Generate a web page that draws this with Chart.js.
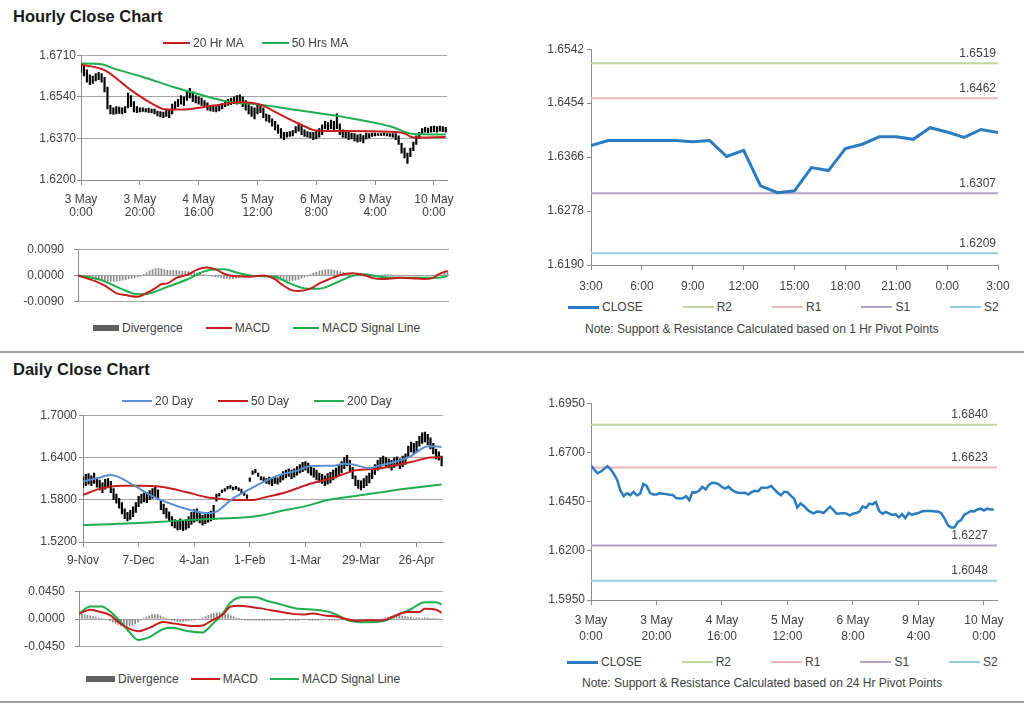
<!DOCTYPE html>
<html>
<head>
<meta charset="utf-8">
<title>Hourly and Daily Close Charts</title>
<script src="https://cdn.jsdelivr.net/npm/chart.js@4.4.1/dist/chart.umd.min.js"></script>
<style>
  html, body { margin: 0; padding: 0; background: #fff; }
  body { width: 1024px; height: 706px; position: relative; overflow: hidden;
         font-family: 'Liberation Sans', Arial, sans-serif; color: #404040; }
  .box { position: absolute; }
  .title { position: absolute; left: 13px; font-size: 16.5px; font-weight: bold; color: #1a1a1a; line-height: 20px; }
  .rule { position: absolute; left: 0; width: 1024px; height: 0; border-top: 2px solid #a0a0a0; }
  .legend { position: absolute; display: flex; align-items: center; height: 14px; font-size: 12px; white-space: nowrap; }
  .legend .item { display: flex; align-items: center; }
  .legend i { display: inline-block; margin-right: 3px; }
  .note { position: absolute; font-size: 12px; line-height: 14px; white-space: nowrap; }
</style>
</head>
<body>
<div class="title" style="top:6px">Hourly Close Chart</div>
<div class="title" style="top:359px">Daily Close Chart</div>
<div class="rule" style="top:351px"></div>
<div class="rule" style="top:701px"></div>

<div class="box" style="left:0;top:47px;width:462px;height:173px"><canvas id="hourPrice"></canvas></div>
<div class="box" style="left:0;top:232px;width:462px;height:87px"><canvas id="hourMacd"></canvas></div>
<div class="box" style="left:510px;top:39px;width:514px;height:256px"><canvas id="hourPivot"></canvas></div>
<div class="box" style="left:0;top:406px;width:462px;height:166px"><canvas id="dayPrice"></canvas></div>
<div class="box" style="left:0;top:574px;width:462px;height:90px"><canvas id="dayMacd"></canvas></div>
<div class="box" style="left:510px;top:394px;width:514px;height:256px"><canvas id="dayPivot"></canvas></div>

<div class="legend" id="lgHourPrice" style="left:163px;top:36px"></div>
<div class="legend" id="lgHourMacd" style="left:93px;top:321px"></div>
<div class="legend" id="lgHourPivot" style="left:568px;top:300px"></div>
<div class="legend" id="lgDayPrice" style="left:122px;top:394px"></div>
<div class="legend" id="lgDayMacd" style="left:86px;top:672px"></div>
<div class="legend" id="lgDayPivot" style="left:567px;top:655px"></div>

<div class="note" style="left:585px;top:322px">Note: Support &amp; Resistance Calculated based on 1 Hr Pivot Points</div>
<div class="note" style="left:582px;top:676px">Note: Support &amp; Resistance Calculated based on 24 Hr Pivot Points</div>

<script>
// ---- hourly chart (top left), one bar per trading hour ----
var hourTicks = [['3 May', '0:00'], ['3 May', '20:00'], ['4 May', '16:00'], ['5 May', '12:00'],
                 ['6 May', '8:00'], ['9 May', '4:00'], ['10 May', '0:00']];

var hourBarLow = [
  1.6640, 1.6625, 1.6600, 1.6590, 1.6595, 1.6605, 1.6610, 1.6600, 1.6560, 1.6490,
  1.6470, 1.6468, 1.6470, 1.6472, 1.6470, 1.6475, 1.6495, 1.6500, 1.6478, 1.6475,
  1.6478, 1.6480, 1.6478, 1.6476, 1.6475, 1.6470, 1.6462, 1.6458, 1.6455, 1.6460,
  1.6455, 1.6470, 1.6490, 1.6500, 1.6510, 1.6505, 1.6525, 1.6535, 1.6520, 1.6515,
  1.6510, 1.6505, 1.6500, 1.6485, 1.6482, 1.6480, 1.6478, 1.6482, 1.6490, 1.6500,
  1.6505, 1.6508, 1.6512, 1.6510, 1.6515, 1.6500, 1.6485, 1.6470, 1.6460, 1.6450,
  1.6470, 1.6475, 1.6455, 1.6440, 1.6435, 1.6420, 1.6405, 1.6390, 1.6372, 1.6365,
  1.6375, 1.6378, 1.6380, 1.6392, 1.6400, 1.6385, 1.6378, 1.6375, 1.6372, 1.6365,
  1.6368, 1.6375, 1.6385, 1.6410, 1.6405, 1.6410, 1.6400, 1.6410, 1.6385, 1.6375,
  1.6372, 1.6365, 1.6368, 1.6360, 1.6355, 1.6358, 1.6352, 1.6368, 1.6372, 1.6378,
  1.6380, 1.6382, 1.6382, 1.6382, 1.6380, 1.6378, 1.6375, 1.6365, 1.6345, 1.6310,
  1.6290, 1.6268, 1.6295, 1.6320, 1.6345, 1.6370, 1.6390, 1.6395, 1.6392, 1.6395,
  1.6398, 1.6395, 1.6400, 1.6398, 1.6395
];
var hourBarHigh = [
  1.6675, 1.6665, 1.6650, 1.6630, 1.6625, 1.6635, 1.6640, 1.6635, 1.6620, 1.6580,
  1.6505, 1.6495, 1.6500, 1.6498, 1.6495, 1.6500, 1.6555, 1.6545, 1.6520, 1.6500,
  1.6495, 1.6495, 1.6492, 1.6494, 1.6490, 1.6490, 1.6482, 1.6480, 1.6478, 1.6490,
  1.6485, 1.6510, 1.6520, 1.6530, 1.6545, 1.6540, 1.6560, 1.6575, 1.6560, 1.6545,
  1.6540, 1.6535, 1.6525, 1.6515, 1.6505, 1.6505, 1.6500, 1.6508, 1.6512, 1.6525,
  1.6530, 1.6535, 1.6540, 1.6545, 1.6548, 1.6540, 1.6525, 1.6510, 1.6500, 1.6495,
  1.6510, 1.6508, 1.6495, 1.6470, 1.6465, 1.6450, 1.6440, 1.6425, 1.6410, 1.6395,
  1.6395, 1.6398, 1.6402, 1.6418, 1.6428, 1.6420, 1.6405, 1.6398, 1.6395, 1.6395,
  1.6400, 1.6410, 1.6425, 1.6440, 1.6435, 1.6445, 1.6440, 1.6470, 1.6430, 1.6405,
  1.6400, 1.6395, 1.6392, 1.6390, 1.6385, 1.6388, 1.6382, 1.6392, 1.6390, 1.6392,
  1.6392, 1.6390, 1.6390, 1.6392, 1.6390, 1.6390, 1.6390, 1.6390, 1.6380, 1.6350,
  1.6330, 1.6310, 1.6330, 1.6355, 1.6380, 1.6395, 1.6410, 1.6415, 1.6412, 1.6418,
  1.6420, 1.6418, 1.6420, 1.6418, 1.6415
];

// moving averages, read as [hour index, value]
var ma20Hr = [[0, 1.6672], [8, 1.6649], [17, 1.6567], [24, 1.6513], [29, 1.6488], [34, 1.6488],
              [45, 1.6504], [54, 1.6518], [61, 1.6508], [67, 1.6472], [74, 1.6431], [80, 1.6402],
              [86, 1.6400], [105, 1.6397], [110, 1.6390], [113, 1.6374], [124, 1.6376]];
var ma50Hr = [[0, 1.6676], [7, 1.6673], [11, 1.6656], [21, 1.6621], [32, 1.6578], [41, 1.6547],
              [50, 1.6520], [61, 1.6508], [72, 1.6488], [89, 1.6458], [105, 1.6420], [113, 1.6388],
              [124, 1.6386]];

var hourDivergence = [
  0, -0.0003, -0.0005, -0.0007, -0.0009, -0.0011, -0.0013, -0.0015, -0.0016, -0.0018,
  -0.0019, -0.0020, -0.0020, -0.0019, -0.0018, -0.0016, -0.0014, -0.0012, -0.0010, -0.0008,
  -0.0005, -0.0002, 0.0004, 0.0010, 0.0016, 0.0020, 0.0024, 0.0025, 0.0023, 0.0020,
  0.0018, 0.0017, 0.0018, 0.0017, 0.0016, 0.0015, 0.0014, 0.0013, 0.0012, 0.0010,
  0.0008, 0.0006, 0.0004, 0.0002, 0, -0.0002, -0.0004, -0.0006, -0.0008, -0.0010,
  -0.0011, -0.0012, -0.0011, -0.0009, -0.0006, -0.0004, -0.0002, -0.0001, 0, 0,
  0, 0, 0, -0.0002, -0.0005, -0.0008, -0.0011, -0.0014, -0.0016, -0.0018,
  -0.0019, -0.0019, -0.0018, -0.0016, -0.0013, -0.0010, -0.0006, -0.0002, 0.0003, 0.0008,
  0.0012, 0.0016, 0.0018, 0.0019, 0.0020, 0.0019, 0.0018, 0.0016, 0.0013, 0.0010,
  0.0006, 0.0004, 0.0002, 0.0001, 0, -0.0001, -0.0002, -0.0003, -0.0003, -0.0002,
  -0.0001, 0.0001, 0.0002, 0.0003, 0.0003, 0.0002, 0.0001, 0, 0, 0,
  0, 0, 0, -0.0001, -0.0001, 0, 0, 0, 0, 0.0001,
  0.0002, 0.0004, 0.0008, 0.0012, 0.0016
];
var hourMacd = [[0, 0], [6, -0.0020], [9, -0.0035], [13, -0.0061], [16, -0.0067], [20, -0.0073],
                [22, -0.0065], [26, -0.0043], [28, -0.0030], [30, -0.0027], [33, -0.0008], [37, 0.0004],
                [40, 0.0020], [43, 0.0027], [46, 0.0022], [49, 0.0006], [52, -0.0002], [58, -0.0004],
                [62, 0], [66, -0.0012], [69, -0.0035], [72, -0.0051], [74, -0.0053], [78, -0.0045],
                [81, -0.0027], [84, -0.0014], [88, 0.0002], [92, 0.0008], [96, 0.0002], [99, -0.0009],
                [102, -0.0012], [108, -0.0008], [112, -0.0009], [116, -0.0012], [119, -0.0009],
                [121, 0.0004], [124, 0.0016]];
var hourSignal = [[0, 0], [8, -0.0016], [14, -0.0043], [20, -0.0064], [23, -0.0063], [30, -0.0039],
                  [37, -0.0012], [43, 0.0016], [49, 0.0021], [54, 0.0008], [60, -0.0002], [66, -0.0004],
                  [71, -0.0027], [77, -0.0045], [81, -0.0045], [87, -0.0023], [92, -0.0002], [96, 0.0004],
                  [101, -0.0004], [108, -0.0008], [117, -0.0008], [121, -0.0008], [124, -0.0002]];

// ---- 1 hr pivot chart (top right) ----
var pivotTicks = ['3:00', '6:00', '9:00', '12:00', '15:00', '18:00', '21:00', '0:00', '3:00'];
var pivotClose = [1.6385, 1.6393, 1.6393, 1.6393, 1.6393, 1.6393, 1.6391, 1.6393, 1.6367, 1.6377,
                  1.6319, 1.6308, 1.6311, 1.6349, 1.6344, 1.6380, 1.6387, 1.6399, 1.6399, 1.6395,
                  1.6414, 1.6407, 1.6398, 1.6411, 1.6406];
var pivotNames = ['R2', 'R1', 'S1', 'S2'];
var hourPivots = [1.6519, 1.6462, 1.6307, 1.6209];

// ---- 24 hr pivot chart (bottom right) ----
var hourClose = [
  1.6634, 1.6612, 1.6594, 1.6603, 1.6615, 1.6630, 1.6614, 1.6590, 1.6560, 1.6505,
  1.6478, 1.6492, 1.6483, 1.6500, 1.6482, 1.6490, 1.6540, 1.6530, 1.6495, 1.6486,
  1.6486, 1.6492, 1.6490, 1.6488, 1.6485, 1.6484, 1.6468, 1.6466, 1.6467, 1.6478,
  1.6458, 1.6498, 1.6496, 1.6505, 1.6525, 1.6512, 1.6535, 1.6546, 1.6545, 1.6538,
  1.6524, 1.6516, 1.6526, 1.6510, 1.6500, 1.6495, 1.6494, 1.6495, 1.6486, 1.6498,
  1.6505, 1.6502, 1.6520, 1.6520, 1.6521, 1.6530, 1.6512, 1.6495, 1.6482, 1.6500,
  1.6498, 1.6480, 1.6466, 1.6420, 1.6440, 1.6428, 1.6410, 1.6398, 1.6390, 1.6400,
  1.6398, 1.6392, 1.6408, 1.6424, 1.6408, 1.6388, 1.6390, 1.6392, 1.6389, 1.6380,
  1.6388, 1.6392, 1.6400, 1.6426, 1.6418, 1.6440, 1.6436, 1.6448, 1.6402, 1.6388,
  1.6398, 1.6390, 1.6382, 1.6386, 1.6370, 1.6386, 1.6366, 1.6392, 1.6383, 1.6388,
  1.6392, 1.6400, 1.6402, 1.6402, 1.6402, 1.6400, 1.6400, 1.6390, 1.6364, 1.6330,
  1.6318, 1.6318, 1.6345, 1.6356, 1.6383, 1.6392, 1.6402, 1.6400, 1.6410, 1.6414,
  1.6405, 1.6414, 1.6410, 1.6410
];
var dayPivots = [1.6840, 1.6623, 1.6227, 1.6048];

// ---- daily chart (bottom left), one bar per trading day ----
var dayTicks = ['9-Nov', '7-Dec', '4-Jan', '1-Feb', '1-Mar', '29-Mar', '26-Apr'];
var dayBarLow = [
  1.597, 1.600, 1.602, 1.600, 1.603, 1.598, 1.594, 1.590, 1.595, 1.598,
  1.590, 1.580, 1.575, 1.568, 1.560, 1.553, 1.550, 1.552, 1.556, 1.562,
  1.570, 1.575, 1.577, 1.576, 1.580, 1.582, 1.584, 1.580, 1.566, 1.560,
  1.554, 1.550, 1.543, 1.540, 1.537, 1.538, 1.536, 1.538, 1.540, 1.545,
  1.548, 1.550, 1.547, 1.544, 1.546, 1.548, 1.550, 1.552, 1.578, 1.585,
  1.590, 1.592, 1.595, 1.596, 1.594, 1.595, 1.593, 1.590, 1.586, 1.582,
  1.606, 1.616, 1.618, 1.613, 1.608, 1.606, 1.603, 1.602, 1.600, 1.603,
  1.602, 1.605, 1.608, 1.611, 1.613, 1.610, 1.612, 1.615, 1.618, 1.620,
  1.622, 1.618, 1.615, 1.612, 1.608, 1.605, 1.603, 1.600, 1.602, 1.604,
  1.608, 1.611, 1.614, 1.618, 1.624, 1.628, 1.620, 1.610, 1.600, 1.596,
  1.594, 1.597, 1.600, 1.604, 1.610, 1.616, 1.622, 1.626, 1.629, 1.627,
  1.625, 1.622, 1.626, 1.628, 1.624, 1.627, 1.630, 1.640, 1.648, 1.645,
  1.648, 1.656, 1.660, 1.662, 1.658, 1.652, 1.645, 1.638, 1.636, 1.628
];
var dayBarHigh = [
  1.612, 1.616, 1.617, 1.614, 1.618, 1.611, 1.608, 1.604, 1.609, 1.610,
  1.606, 1.596, 1.588, 1.582, 1.576, 1.567, 1.562, 1.565, 1.570, 1.576,
  1.585, 1.588, 1.590, 1.590, 1.593, 1.596, 1.598, 1.594, 1.580, 1.574,
  1.568, 1.563, 1.556, 1.552, 1.550, 1.553, 1.550, 1.552, 1.556, 1.562,
  1.566, 1.567, 1.562, 1.558, 1.560, 1.562, 1.564, 1.572, 1.588, 1.589,
  1.594, 1.596, 1.599, 1.600, 1.598, 1.599, 1.597, 1.595, 1.590, 1.587,
  1.611, 1.621, 1.623, 1.618, 1.613, 1.612, 1.610, 1.612, 1.610, 1.613,
  1.611, 1.616, 1.620, 1.622, 1.624, 1.622, 1.624, 1.627, 1.630, 1.633,
  1.634, 1.632, 1.628, 1.625, 1.622, 1.618, 1.616, 1.614, 1.617, 1.619,
  1.622, 1.625, 1.630, 1.634, 1.640, 1.643, 1.636, 1.626, 1.614, 1.608,
  1.607, 1.610, 1.614, 1.618, 1.624, 1.630, 1.636, 1.640, 1.642, 1.640,
  1.638, 1.636, 1.640, 1.641, 1.638, 1.642, 1.645, 1.656, 1.662, 1.660,
  1.663, 1.670, 1.675, 1.676, 1.673, 1.668, 1.660, 1.652, 1.648, 1.642
];
var ma20Day = [[0, 1.6060], [5, 1.6105], [10, 1.6150], [18, 1.6011], [24, 1.5870], [30, 1.5766],
               [37, 1.5672], [45, 1.5608], [48, 1.5630], [54, 1.5819], [60, 1.5950], [65, 1.6053],
               [70, 1.6143], [77, 1.6213], [82, 1.6280], [90, 1.6284], [94, 1.6311], [97, 1.6300],
               [103, 1.6250], [107, 1.6290], [112, 1.6335], [118, 1.6420], [122, 1.6530],
               [124, 1.6560], [129, 1.6550]];
var ma50Day = [[0, 1.5870], [6, 1.5954], [14, 1.5997], [20, 1.5997], [28, 1.5983], [37, 1.5910],
               [44, 1.5840], [48, 1.5819], [55, 1.5795], [61, 1.5795], [65, 1.5830], [73, 1.5907],
               [82, 1.6030], [90, 1.6110], [98, 1.6217], [106, 1.6241], [111, 1.6280], [118, 1.6335],
               [125, 1.6400], [129, 1.6405]];
var ma200Day = [[0, 1.5440], [18, 1.5465], [36, 1.5507], [48, 1.5530], [60, 1.5554], [64, 1.5575],
                [70, 1.5630], [80, 1.5709], [88, 1.5795], [101, 1.5870], [112, 1.5936], [122, 1.5985],
                [129, 1.6016]];

var dayDivergence = [
  0.006, 0.008, 0.007, 0.006, 0.005, 0.004, 0.003, 0.002, 0.001, 0.000,
  -0.001, -0.003, -0.005, -0.007, -0.009, -0.011, -0.012, -0.012, -0.011, -0.010,
  -0.008, -0.005, -0.002, 0.001, 0.003, 0.005, 0.007, 0.0075, 0.007, 0.005,
  0.003, 0.001, -0.001, -0.002, -0.003, -0.004, -0.004, -0.004, -0.003, -0.003,
  -0.002, -0.002, -0.001, 0.000, 0.002, 0.004, 0.006, 0.008, 0.009, 0.010,
  0.010, 0.009, 0.008, 0.007, 0.005, 0.004, 0.002, 0.001, -0.001, -0.002,
  -0.002, -0.002, -0.002, -0.002, -0.002, -0.002, -0.002, -0.002, -0.002, -0.002,
  -0.002, -0.002, -0.002, -0.002, -0.001, -0.002, -0.002, -0.002, -0.002, -0.001,
  -0.001, -0.001, -0.002, -0.002, -0.002, -0.002, -0.001, -0.001, -0.001, -0.002,
  -0.002, -0.002, -0.002, -0.001, -0.001, -0.001, -0.001, -0.001, -0.002, -0.002,
  -0.001, -0.001, -0.001, 0.000, 0.000, -0.001, -0.001, 0.000, 0.001, 0.002,
  0.003, 0.004, 0.005, 0.006, 0.006, 0.005, 0.004, 0.003, 0.003, 0.002,
  0.002, 0.002, 0.001, 0.002, 0.002, 0.001, 0.001, 0.001, 0.000, -0.001
];
var dayMacd = [[0, 0.0083], [4, 0.0150], [7, 0.0120], [11, 0.0064], [14, -0.0049], [18, -0.0161],
               [21, -0.0199], [25, -0.0143], [30, -0.0049], [34, -0.0075], [40, -0.0113], [44, -0.0105],
               [47, -0.0030], [51, 0.0064], [54, 0.0203], [57, 0.0214], [64, 0.0176], [71, 0.0120],
               [76, 0.0083], [80, 0.0071], [83, 0.0090], [88, 0.0053], [91, 0.0045], [95, 0],
               [99, -0.0030], [103, -0.0019], [108, -0.0023], [112, 0.0045], [117, 0.0113],
               [121, 0.0113], [123, 0.0165], [127, 0.0150], [129, 0.0101]];
var daySignal = [[0, 0.0083], [4, 0.0203], [8, 0.0203], [12, 0.0083], [17, -0.0161], [21, -0.0338],
                 [25, -0.0293], [30, -0.0161], [33, -0.0143], [39, -0.0199], [44, -0.0218], [47, -0.0105],
                 [51, 0.0083], [54, 0.0270], [58, 0.0353], [63, 0.0353], [66, 0.0308], [72, 0.0233],
                 [78, 0.0165], [84, 0.0150], [90, 0.0101], [96, -0.0023], [102, -0.0053], [108, -0.0038],
                 [114, 0.0083], [118, 0.0158], [123, 0.0270], [127, 0.0270], [129, 0.0233]];

// ---- styling ----
var RED = '#c41f1e', GREEN = '#1fae50', BLUE = '#5b8fcf', CLOSE_BLUE = '#2a7bc0';
var pivotColors = ['#c3d69b', '#e6b9b8', '#b3a2c7', '#93cddd'];
var AXIS = '#8c8c8c', GRID = '#a6a6a6';

Chart.defaults.font.family = "'Liberation Sans', Arial, sans-serif";
Chart.defaults.font.size = 12;
Chart.defaults.color = '#404040';
Chart.defaults.animation = false;
Chart.defaults.plugins.legend.display = false;
Chart.defaults.plugins.tooltip.enabled = false;

function toBars(lows, highs) {
  return lows.map(function (lo, i) { return { x: i, y: [lo, highs[i]] }; });
}
function toPoints(values) {
  return values.map(function (v, i) { return { x: i, y: v }; });
}

function bars(label, data, color, thickness) {
  return { type: 'bar', label: label, data: data, backgroundColor: color,
           barThickness: thickness, order: 2 };
}
function line(label, data, color, width, smooth) {
  return { type: 'line', label: label, data: data, borderColor: color, backgroundColor: color,
           borderWidth: width, pointRadius: 0, fill: false, order: 0,
           cubicInterpolationMode: smooth ? 'monotone' : 'default' };
}
function levels(values, last) {
  return values.map(function (v, k) {
    var ds = line(pivotNames[k], [[0, v], [last, v]], pivotColors[k], 2);
    ds.level = v;
    ds.order = 1;
    return ds;
  });
}

function yAxis(min, max, step, width, pad, onArea) {
  return {
    min: min, max: max,
    afterFit: function (s) { s.width = width; },
    ticks: { stepSize: step, padding: pad, callback: function (v) { return Number(v).toFixed(4); } },
    grid: { color: GRID, tickColor: AXIS, tickLength: 4, drawOnChartArea: onArea },
    border: { color: AXIS }
  };
}
function xAxis(max, step, labels, height, pad, lineHeight) {
  return {
    type: 'linear', min: 0, max: max, offset: false,
    display: labels !== null,
    afterFit: function (s) { s.height = height; },
    ticks: {
      stepSize: step, includeBounds: false, autoSkip: false, maxRotation: 0, padding: pad,
      font: { lineHeight: lineHeight || 1.1 },
      callback: function (v) { return labels ? labels[Math.round(v / step)] : ''; }
    },
    grid: { drawOnChartArea: false, color: AXIS, tickLength: 5, offset: false },
    border: { color: AXIS }
  };
}

// writes the level value just above each pivot line, at the right end
function levelText(inset) {
  return {
    id: 'levelText',
    afterDatasetsDraw: function (chart) {
      var ctx = chart.ctx, area = chart.chartArea, y = chart.scales.y;
      ctx.save();
      ctx.font = "12px 'Liberation Sans', Arial, sans-serif";
      ctx.fillStyle = '#404040';
      ctx.textAlign = 'right';
      ctx.textBaseline = 'middle';
      chart.data.datasets.forEach(function (ds) {
        if (ds.level === undefined) return;
        ctx.fillText(ds.level.toFixed(4), area.right - inset, y.getPixelForValue(ds.level) - 10);
      });
      ctx.restore();
    }
  };
}

function makeChart(id, datasets, scales, pad, plugins) {
  return new Chart(document.getElementById(id), {
    type: 'line',
    data: { datasets: datasets },
    options: { responsive: true, maintainAspectRatio: false, layout: { padding: pad }, scales: scales },
    plugins: plugins || []
  });
}

function htmlLegend(chart, id, markWidth, gap) {
  var box = document.getElementById(id);
  var sets = chart.data.datasets.filter(function (ds) { return ds.label; });
  sets.forEach(function (ds, n) {
    var item = document.createElement('span');
    item.className = 'item';
    if (n < sets.length - 1) item.style.marginRight = gap + 'px';
    var mark = document.createElement('i');
    mark.style.width = markWidth + 'px';
    if (ds.type === 'bar') {
      mark.style.height = '6px';
      mark.style.background = '#5f5f5f';
    } else {
      mark.style.height = (ds.borderWidth > 2 ? 3 : ds.level !== undefined ? 1.5 : 2) + 'px';
      mark.style.background = ds.borderColor;
    }
    item.appendChild(mark);
    item.appendChild(document.createTextNode(ds.label));
    box.appendChild(item);
  });
}

var c1 = makeChart('hourPrice', [
  bars('', toBars(hourBarLow, hourBarHigh), '#000', 1.5),
  line('20 Hr MA', ma20Hr, RED, 2, true),
  line('50 Hrs MA', ma50Hr, GREEN, 2, true)
], {
  x: xAxis(124.5, 20, hourTicks, 40, 8),
  y: yAxis(1.62, 1.671, 0.017, 81, 1, true)
}, { top: 8, right: 11, bottom: 0, left: 0 });
htmlLegend(c1, 'lgHourPrice', 27, 18);

var c2 = makeChart('hourMacd', [
  bars('Divergence', toPoints(hourDivergence), '#8a8a8a', 1),
  line('MACD', hourMacd, RED, 2, true),
  line('MACD Signal Line', hourSignal, GREEN, 2, true)
], {
  x: xAxis(124.5, 20, null, 0, 0),
  y: yAxis(-0.009, 0.009, 0.009, 78, 10, true)
}, { top: 8, right: 13, bottom: 2, left: 0 });
htmlLegend(c2, 'lgHourMacd', 26, 23);

var c3 = makeChart('hourPivot', [line('CLOSE', toPoints(pivotClose), CLOSE_BLUE, 3)]
  .concat(levels(hourPivots, 24)), {
  x: xAxis(24, 3, pivotTicks, 30, 10),
  y: yAxis(1.619, 1.6542, 0.0088, 81, 3, false)
}, { top: 8, right: 26, bottom: 0, left: 0 }, [levelText(2)]);
htmlLegend(c3, 'lgHourPivot', 31, 40);

var c4 = makeChart('dayPrice', [
  bars('', toBars(dayBarLow, dayBarHigh), '#000', 1.5),
  line('20 Day', ma20Day, BLUE, 2, true),
  line('50 Day', ma50Day, RED, 2, true),
  line('200 Day', ma200Day, GREEN, 2, true)
], {
  x: xAxis(129.5, 20, dayTicks, 30, 7),
  y: yAxis(1.52, 1.70, 0.06, 83, 2, true)
}, { top: 8, right: 19, bottom: 0, left: 0 });
htmlLegend(c4, 'lgDayPrice', 30, 25);

var c5 = makeChart('dayMacd', [
  bars('Divergence', toPoints(dayDivergence), '#8a8a8a', 1),
  line('MACD', dayMacd, RED, 2, true),
  line('MACD Signal Line', daySignal, GREEN, 2, true)
], {
  x: xAxis(129.5, 20, null, 0, 0),
  y: yAxis(-0.045, 0.045, 0.045, 79, 10, true)
}, { top: 8, right: 19, bottom: 2, left: 0 });
htmlLegend(c5, 'lgDayMacd', 29, 12);

var c6 = makeChart('dayPivot', [line('CLOSE', toPoints(hourClose), CLOSE_BLUE, 2.5)]
  .concat(levels(dayPivots, 124)), {
  x: xAxis(124, 20, hourTicks, 50, 8, 1.33),
  y: yAxis(1.595, 1.695, 0.025, 81, 2, false)
}, { top: 8, right: 27, bottom: 0, left: 0 }, [levelText(9)]);
htmlLegend(c6, 'lgDayPivot', 31, 40);
</script>
</body>
</html>
